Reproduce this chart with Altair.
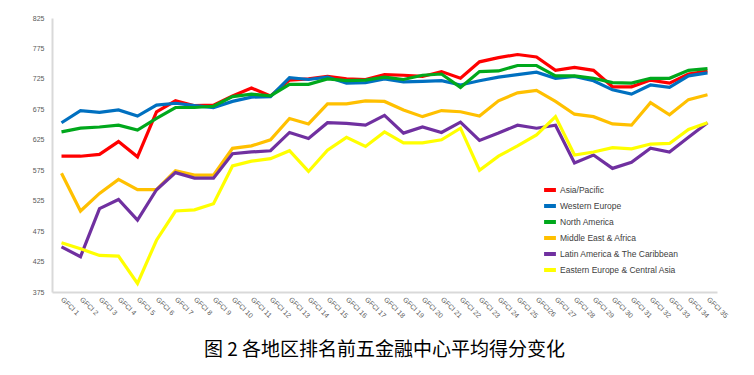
import altair as alt
import pandas as pd

periods = ["GFCI " + str(i) for i in range(1, 36)]
periods[25] = "GFCI26"

series_names = [
    "Asia/Pacific",
    "Western Europe",
    "North America",
    "Middle East & Africa",
    "Latin America & The Caribbean",
    "Eastern Europe & Central Asia",
]
series_colors = ["#FF0000", "#0070C0", "#00A81C", "#FFC000", "#7030A0", "#FFFF00"]

asia_pacific = [598, 598, 601, 622, 597, 671, 689, 681, 682, 697, 710, 697,
                723, 725, 729, 725, 724, 732, 731, 729, 737, 726, 753, 760,
                765, 761, 739, 744, 739, 712, 712, 723, 718, 733, 738]
western_europe = [653, 673, 670, 674, 664, 682, 685, 681, 678, 688, 695, 696,
                  727, 724, 728, 718, 719, 725, 720, 721, 722, 715, 722, 728,
                  732, 736, 726, 729, 722, 707, 700, 715, 711, 730, 735]
north_america = [638, 644, 646, 649, 641, 660, 678, 678, 680, 696, 700, 697,
                 716, 716, 725, 722, 723, 728, 724, 731, 733, 711, 737, 738,
                 747, 747, 730, 730, 726, 719, 718, 726, 726, 739, 742]
middle_east = [570, 508, 537, 560, 543, 543, 574, 567, 567, 611, 615, 625,
               660, 651, 684, 684, 689, 688, 674, 663, 673, 671, 664, 689,
               702, 706, 688, 667, 663, 651, 649, 686, 666, 691, 699]
latin_america = [449, 433, 512, 527, 493, 543, 571, 562, 562, 602, 605, 607,
                 637, 627, 653, 652, 649, 665, 636, 646, 637, 654, 624, 636,
                 649, 644, 649, 587, 600, 578, 588, 611, 605, 629, 653]
eastern_europe = [456, 446, 435, 434, 389, 460, 508, 510, 520, 582, 590, 594,
                  607, 573, 608, 629, 614, 638, 620, 620, 625, 644, 575, 598,
                  615, 633, 663, 600, 605, 612, 610, 618, 619, 642, 653]

all_values = [asia_pacific, western_europe, north_america,
              middle_east, latin_america, eastern_europe]

rows = []
for name, vals in zip(series_names, all_values):
    for p, v in zip(periods, vals):
        rows.append({"period": p, "region": name, "score": v})
df = pd.DataFrame(rows)

y_ticks = list(range(375, 826, 50))

lines = alt.Chart(df).mark_line(strokeWidth=3.2).encode(
    x=alt.X("period:N", sort=periods, scale=alt.Scale(type="point", padding=0.5),
            axis=alt.Axis(title=None, labelAngle=45, labelAlign="left",
                          labelBaseline="middle", labelFontSize=7,
                          labelColor="#595959", labelFont="Liberation Sans",
                          ticks=False, labelPadding=6, domainColor="#D9D9D9",
                          domainWidth=2, grid=False)),
    y=alt.Y("score:Q", scale=alt.Scale(domain=[375, 825], nice=False, zero=False),
            axis=alt.Axis(title=None, values=y_ticks, labelFontSize=7,
                          labelColor="#595959", labelFont="Liberation Sans",
                          ticks=False, labelPadding=8, domainColor="#D9D9D9",
                          domainWidth=2, grid=False)),
    color=alt.Color("region:N", sort=series_names,
                    scale=alt.Scale(domain=series_names, range=series_colors),
                    legend=alt.Legend(title=None, orient="none", legendX=490,
                                      legendY=164, symbolType="stroke",
                                      symbolStrokeWidth=4, symbolSize=140,
                                      labelFontSize=8.5, labelColor="#404040",
                                      labelFont="Liberation Sans",
                                      rowPadding=0, labelOffset=2)),
    order=alt.Order("region_order:Q"),
).transform_calculate(
    region_order="indexof(" + str(series_names) + ", datum.region)"
)

chart = lines.properties(
    width=665,
    height=274,
    autosize=alt.AutoSizeParams(type="none"),
    padding={"left": 44, "top": 10, "right": 29, "bottom": 70},
    title=alt.TitleParams(
        "图 2 各地区排名前五金融中心平均得分变化",
        orient="bottom", anchor="middle", offset=22,
        font="Noto Sans CJK SC", fontSize=19, fontWeight="normal",
        color="#000000",
    ),
    background="#FFFFFF",
).configure_view(stroke=None)

chart.save("out.html", embed_options={"renderer": "svg", "actions": False})
